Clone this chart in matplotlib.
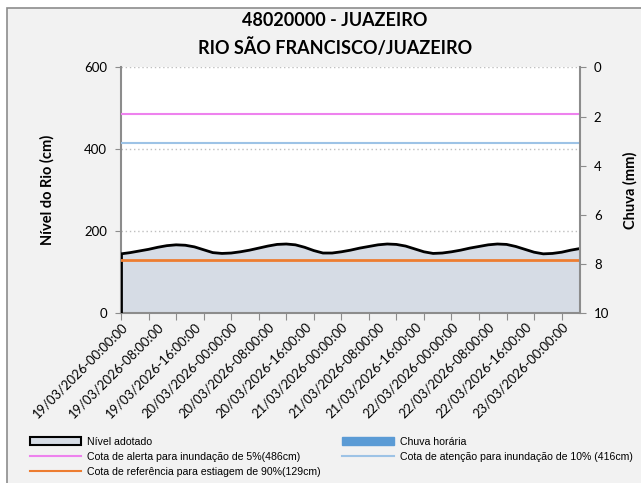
# -*- coding: utf-8 -*-
# Nivel do rio - 48020000 JUAZEIRO
import matplotlib
matplotlib.use('Agg')
import matplotlib.pyplot as plt
from matplotlib.lines import Line2D
from matplotlib.patches import Patch, Rectangle

# horas desde 19/03/2026 00:00
horas = [0, 2, 4, 6, 8, 10, 12, 14, 16, 18, 20, 22, 24, 26, 28, 30, 32, 34,
         36, 38, 40, 42, 44, 46, 48, 50, 52, 54, 56, 58, 60, 62, 64, 66, 68,
         70, 72, 74, 76, 78, 80, 82, 84, 86, 88, 90, 92, 94, 96, 98, 100]
nivel = [145, 148, 152, 156, 161, 165, 167, 166, 162, 155, 148, 146, 147,
         150, 154, 159, 164, 168, 169, 167, 161, 153, 147, 147, 150, 154,
         159, 163, 167, 169, 168, 164, 157, 150, 146, 147, 150, 154, 159,
         163, 167, 169, 168, 163, 156, 149, 145, 146, 149, 154, 158]
chuva = [0.0] * len(horas)  # sem chuva no periodo

cota_alerta = 486
cota_atencao = 416
cota_estiagem = 129

rotulos = ['19/03/2026-00:00:00', '19/03/2026-08:00:00', '19/03/2026-16:00:00',
           '20/03/2026-00:00:00', '20/03/2026-08:00:00', '20/03/2026-16:00:00',
           '21/03/2026-00:00:00', '21/03/2026-08:00:00', '21/03/2026-16:00:00',
           '22/03/2026-00:00:00', '22/03/2026-08:00:00', '22/03/2026-16:00:00',
           '23/03/2026-00:00:00']
pos_rotulos = [0, 8, 16, 24, 32, 40, 48, 56, 64, 72, 80, 88, 96]
pos_marcas = [0, 6, 12, 18, 24, 30, 36, 42, 48, 54, 60, 66, 72, 78, 84, 90, 96]

plt.rcParams['font.family'] = ['Lato', 'DejaVu Sans']

W, H = 641, 483
fig = plt.figure(figsize=(W / 100, H / 100), dpi=100, facecolor='white')
fig.patches.append(Rectangle((7 / W, -0.1), 1.2, 1 - 8 / H + 0.1,
                             transform=fig.transFigure, facecolor='#f2f2f2',
                             edgecolor='#8c8c8c', linewidth=1.2, zorder=-10))

ax = fig.add_axes([121 / W, 1 - 313.3 / H, (580 - 121) / W, (313.3 - 67.3) / H])
ax.set_facecolor('white')

ax.fill_between(horas, nivel, 0, color='#d6dce5', zorder=2)
ax.plot(horas, nivel, color='black', lw=2, zorder=3)
ax.plot([horas[0], horas[0]], [0, nivel[0]], color='black', lw=2, zorder=3)
ax.axhline(cota_alerta, color='#ee82ee', lw=1.5, zorder=3)
ax.axhline(cota_atencao, color='#9dc3e6', lw=1.5, zorder=3)
ax.axhline(cota_estiagem, color='#ed7d31', lw=2, zorder=4)

ax.set_xlim(0, 100)
ax.set_ylim(0, 600)
ax.set_yticks([0, 200, 400, 600])
ax.yaxis.grid(True, linestyle=(0, (1, 2)), color='#bfbfbf', lw=1)
ax.set_axisbelow(True)
ax.tick_params(axis='y', labelsize=9.5, colors='#8c8c8c', labelcolor='black',
               length=4, pad=6)
ax.xaxis.remove_overlapping_locs = False
ax.set_xticks(pos_marcas)
ax.set_xticklabels([''] * len(pos_marcas))
ax.set_xticks(pos_rotulos, rotulos, minor=True)
ax.tick_params(axis='x', which='major', length=5, colors='#8c8c8c')
ax.tick_params(axis='x', which='minor', length=0, pad=5, labelsize=9.4)
for lab in ax.get_xticklabels(minor=True):
    lab.set_rotation(45)
    lab.set_ha('right')
    lab.set_va('top')
    lab.set_rotation_mode('anchor')

ax.spines['top'].set_visible(False)
ax.spines['right'].set_visible(False)
ax.spines['left'].set_linestyle((0, (1, 1)))
ax.spines['left'].set_color('#8c8c8c')
ax.spines['left'].set_linewidth(1.5)
ax.spines['bottom'].set_color('#8c8c8c')
ax.spines['bottom'].set_linewidth(1.5)
ax.set_ylabel('Nível do Rio (cm)', fontsize=10.5, fontweight='bold', labelpad=21)

ax2 = ax.twinx()
ax2.bar(horas, chuva, width=1.5, color='#5b9bd5')
ax2.set_ylim(10, 0)
ax2.set_yticks([0, 2, 4, 6, 8, 10])
ax2.tick_params(axis='y', labelsize=9.5, colors='#8c8c8c', labelcolor='black',
                length=4, pad=6)
for s in ['top', 'left', 'bottom']:
    ax2.spines[s].set_visible(False)
ax2.spines['right'].set_color('#8c8c8c')
ax2.spines['right'].set_linewidth(1.5)
ax2.set_ylabel('Chuva (mm)', fontsize=10.5, fontweight='bold', labelpad=10)

fig.text(335 / W, 1 - 21 / H, '48020000 - JUAZEIRO', ha='center', va='center',
         fontsize=13, fontweight='bold')
fig.text(335 / W, 1 - 48 / H, 'RIO SÃO FRANCISCO/JUAZEIRO', ha='center',
         va='center', fontsize=13, fontweight='bold')

handles = [Patch(facecolor='#d6dce5', edgecolor='black', linewidth=1.5),
           Line2D([], [], color='#ee82ee', lw=1.5),
           Line2D([], [], color='#ed7d31', lw=1.5),
           Patch(facecolor='#5b9bd5', edgecolor='#5b9bd5'),
           Line2D([], [], color='#9dc3e6', lw=1.5)]
labels = ['Nível adotado', 'Cota de alerta para inundação de 5%(486cm)',
          'Cota de referência para estiagem de 90%(129cm)', 'Chuva horária',
          'Cota de atenção para inundação de 10% (416cm)']
fig.legend(handles, labels, ncol=2, loc='upper left',
           bbox_to_anchor=(20 / W, 1 - 427 / H), frameon=False,
           prop={'family': 'Liberation Sans', 'size': 7.6},
           handlelength=4.9, handleheight=0.9, handletextpad=0.55,
           columnspacing=2.05, labelspacing=0.48)

fig.savefig('out.png', dpi=100, facecolor=fig.get_facecolor())
